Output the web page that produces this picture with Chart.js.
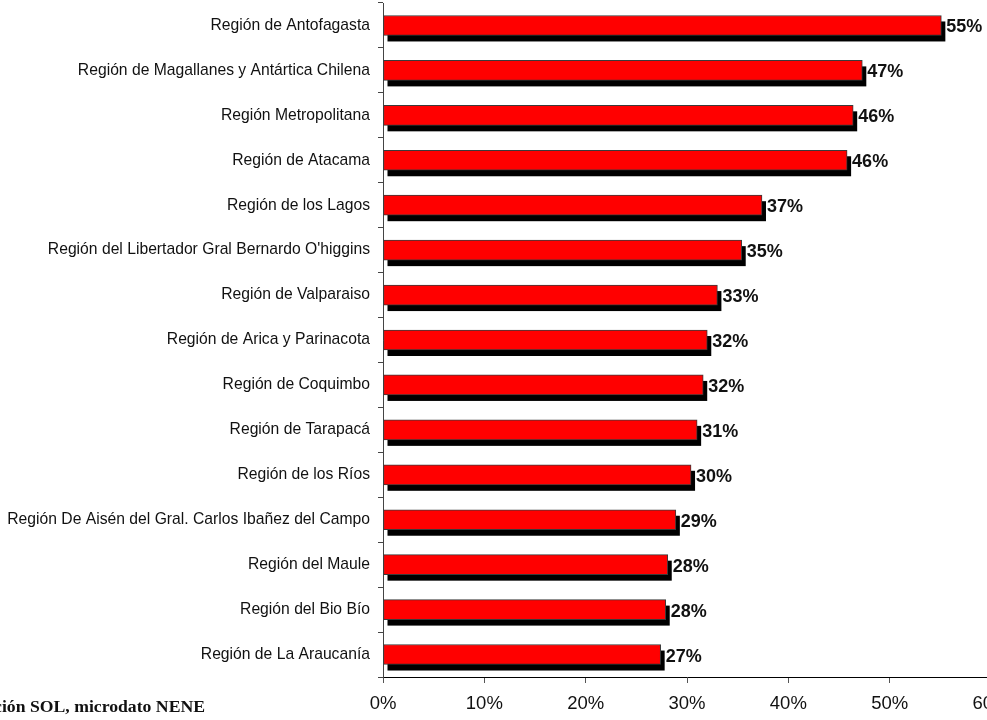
<!DOCTYPE html>
<html>
<head>
<meta charset="utf-8">
<script src="https://cdn.jsdelivr.net/npm/chart.js@4/dist/chart.umd.min.js"></script>
<style>
  html, body { margin: 0; padding: 0; background: #fff; overflow: hidden; }
  #wrap { width: 1000px; height: 720px; }
</style>
</head>
<body>
<div id="wrap"><canvas id="chart"></canvas></div>
<script>
const regions = [
  'Región de Antofagasta',
  'Región de Magallanes y Antártica Chilena',
  'Región Metropolitana',
  'Región de Atacama',
  'Región de los Lagos',
  "Región del Libertador Gral Bernardo O'higgins",
  'Región de Valparaiso',
  'Región de Arica y Parinacota',
  'Región de Coquimbo',
  'Región de Tarapacá',
  'Región de los Ríos',
  'Región De Aisén del Gral. Carlos Ibañez del Campo',
  'Región del Maule',
  'Región del Bio Bío',
  'Región de La Araucanía'
];
const shares = [55.1, 47.3, 46.4, 45.8, 37.4, 35.4, 33.0, 32.0, 31.6, 31.0, 30.4, 28.9, 28.1, 27.9, 27.4];
const xTicks = [0, 10, 20, 30, 40, 50, 60];
const sourceNote = 'Fuente: Elaboración SOL, microdato NENE';

const shadowPlugin = {
  id: 'shadow',
  beforeDatasetsDraw(chart) {
    const ctx = chart.ctx;
    ctx.save();
    ctx.fillStyle = '#000';
    chart.getDatasetMeta(0).data.forEach(bar => {
      const h = bar.height;
      ctx.fillRect(bar.base + 4, bar.y - h / 2 + 6, bar.x - bar.base, h);
    });
    ctx.restore();
  },
  afterDatasetsDraw(chart) {
    const ctx = chart.ctx;
    ctx.save();
    ctx.fillStyle = '#111';
    ctx.font = 'bold 18px "Liberation Sans", Arial, sans-serif';
    ctx.textAlign = 'left';
    ctx.textBaseline = 'middle';
    chart.getDatasetMeta(0).data.forEach((bar, i) => {
      ctx.fillText(Math.round(shares[i]) + '%', bar.x + 5, bar.y + 2);
    });
    ctx.restore();
  },
  afterDraw(chart) {
    const ctx = chart.ctx;
    ctx.save();
    ctx.fillStyle = '#111';
    ctx.font = 'bold 17.7px "Liberation Serif", "Times New Roman", serif';
    ctx.textAlign = 'right';
    ctx.textBaseline = 'alphabetic';
    ctx.fillText(sourceNote, 205, 712);
    ctx.restore();
  }
};

new Chart(document.getElementById('chart'), {
  type: 'bar',
  data: {
    labels: regions,
    datasets: [{
      data: shares,
      backgroundColor: '#ff0000',
      borderColor: '#3a3a3a',
      borderWidth: 1,
      borderSkipped: false,
      barThickness: 20
    }]
  },
  options: {
    indexAxis: 'y',
    responsive: true,
    maintainAspectRatio: false,
    animation: false,
    layout: { padding: { top: 3, right: 9, left: 0, bottom: 0 } },
    plugins: {
      legend: { display: false },
      tooltip: { enabled: false }
    },
    scales: {
      x: {
        min: 0,
        max: 60,
        afterBuildTicks: (axis) => { axis.ticks = xTicks.map(v => ({ value: v })); },
        afterFit: (axis) => {
          axis.height = 43;
          axis.paddingLeft = 0;
          axis.paddingRight = 0;
        },
        border: { color: '#000', width: 1 },
        grid: { drawOnChartArea: false, tickLength: 6, color: '#555' },
        ticks: {
          color: '#111',
          padding: 10,
          font: { family: '"Liberation Sans", Arial, sans-serif', size: 18.5 },
          callback: (v) => v + '%'
        }
      },
      y: {
        afterFit: (axis) => {
          axis.width = 383;
          axis.paddingTop = 0;
          axis.paddingBottom = 0;
        },
        border: { color: '#444', width: 1 },
        grid: { drawOnChartArea: false, tickLength: 5, color: '#444', offset: true },
        ticks: {
          color: '#111',
          padding: 8,
          autoSkip: false,
          font: { family: '"Liberation Sans", Arial, sans-serif', size: 15.7 }
        }
      }
    }
  },
  plugins: [shadowPlugin]
});
</script>
</body>
</html>
